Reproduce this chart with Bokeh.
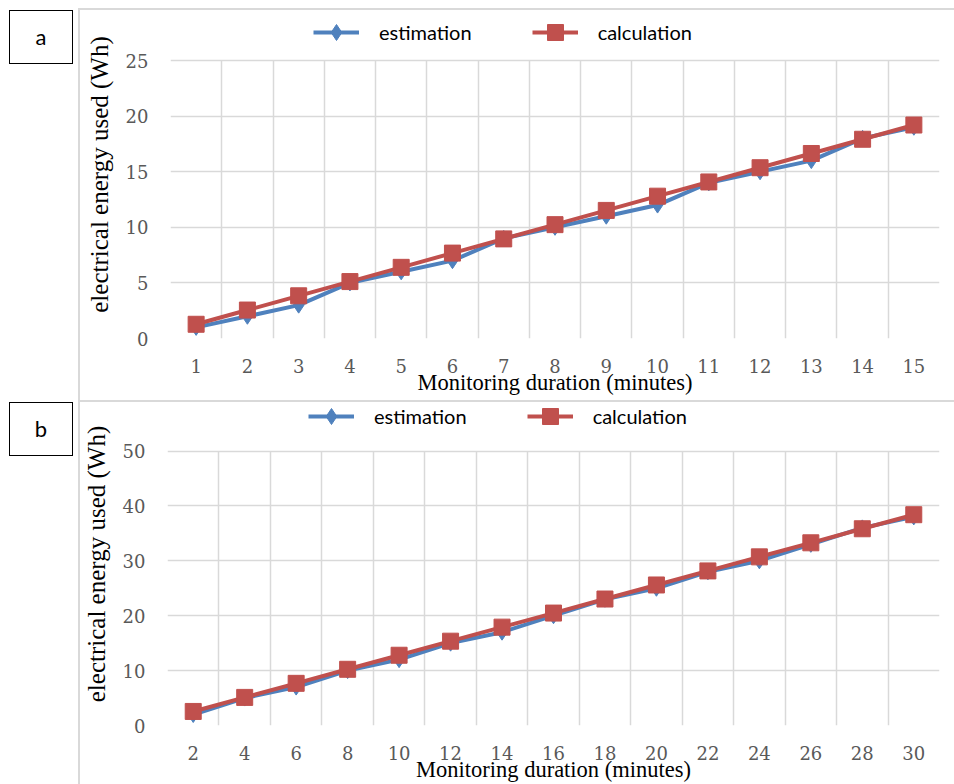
from bokeh.plotting import figure
from bokeh.models import FixedTicker, Legend, LegendItem, Range1d, Div, Spacer
from bokeh.layouts import column, row
from bokeh.embed import file_html
from bokeh.resources import INLINE

# ---- data (panel a) ----
minutes_a = [1, 2, 3, 4, 5, 6, 7, 8, 9, 10, 11, 12, 13, 14, 15]
estimation_a = [1, 2, 3, 5, 6, 7, 9, 10, 11, 12, 14, 15, 16, 18, 19]
calculation_a = [1.28, 2.56, 3.84, 5.12, 6.4, 7.68, 8.96, 10.24, 11.52, 12.8,
                 14.08, 15.36, 16.64, 17.92, 19.2]
y_ticks_a = [0, 5, 10, 15, 20, 25]

# ---- data (panel b) ----
minutes_b = [2, 4, 6, 8, 10, 12, 14, 16, 18, 20, 22, 24, 26, 28, 30]
estimation_b = [2, 5, 7, 10, 12, 15, 17, 20, 23, 25, 28, 30, 33, 36, 38]
calculation_b = [2.56, 5.12, 7.68, 10.24, 12.8, 15.36, 17.92, 20.48, 23.04, 25.6,
                 28.16, 30.72, 33.28, 35.84, 38.4]
y_ticks_b = [0, 10, 20, 30, 40, 50]

series_names = ["estimation", "calculation"]
x_title = "Monitoring duration (minutes)"
y_title = "electrical energy used (Wh)"

GRID = "#d9d9d9"
BLUE = "#4f81bd"
RED = "#c0504d"
TICK = "#595959"


def make_panel(xs, est, calc, yticks, y_top, width, height, bl, br, bt, bb, leg_x, leg_y):
    step = xs[1] - xs[0]
    x_lo, x_hi = xs[0] - step / 2, xs[-1] + step / 2
    xr = Range1d(x_lo, x_hi)
    yr = Range1d(yticks[0], y_top)   # headroom above the plot area holds the legend
    p = figure(width=width, height=height, x_range=xr, y_range=yr,
               output_backend="svg", toolbar_location=None,
               min_border_left=bl, min_border_right=br,
               min_border_top=bt, min_border_bottom=bb)
    p.outline_line_color = None
    p.background_fill_alpha = 0
    p.border_fill_alpha = 0
    p.styles = {"box-shadow": "inset 2px 2px 0 0 #d9d9d9"}

    grid_x = [x_lo + i * step for i in range(len(xs) + 1)]
    p.xgrid.ticker = FixedTicker(ticks=grid_x)
    p.ygrid.ticker = FixedTicker(ticks=yticks)
    p.xgrid.cross_bounds = (yticks[0], yticks[-1])
    p.ygrid.cross_bounds = (x_lo, x_hi)
    for g in (p.xgrid, p.ygrid):
        g.grid_line_color = GRID
        g.grid_line_width = 1.5

    p.xaxis.ticker = FixedTicker(ticks=xs)
    p.yaxis.ticker = FixedTicker(ticks=yticks)
    p.yaxis.bounds = (yticks[0], yticks[-1])
    for ax in (p.xaxis, p.yaxis):
        ax.axis_line_color = None
        ax.major_tick_line_color = None
        ax.minor_tick_line_color = None
        ax.major_label_text_font = "DejaVu Serif"
        ax.major_label_text_font_size = "18px"
        ax.major_label_text_color = TICK
        ax.axis_label_text_font = "Liberation Serif"
        ax.axis_label_text_font_style = "normal"
        ax.axis_label_text_color = "black"
    p.xaxis.axis_label_text_font_size = "22.5px"
    p.yaxis.axis_label_text_font_size = "25px"
    p.xaxis.axis_label = x_title
    p.yaxis.axis_label = y_title
    p.xaxis.major_label_standoff = 14
    p.xaxis.axis_label_standoff = -6
    p.yaxis.major_label_standoff = 16
    p.yaxis.axis_label_standoff = 10

    l1 = p.line(xs, est, line_color=BLUE, line_width=4)
    m1 = p.scatter(xs, est, marker="diamond", size=16, fill_color=BLUE, line_color=BLUE)
    l2 = p.line(xs, calc, line_color=RED, line_width=4)
    m2 = p.scatter(xs, calc, marker="square", size=16, fill_color=RED, line_color=RED)

    legend = Legend(items=[LegendItem(label=series_names[0], renderers=[l1, m1]),
                           LegendItem(label=series_names[1], renderers=[l2, m2])],
                    orientation="horizontal", location=(leg_x, leg_y),
                    border_line_color=None, background_fill_alpha=0,
                    padding=0, margin=0, spacing=60, label_standoff=20,
                    glyph_width=46, glyph_height=40,
                    label_text_font="Lato", label_text_font_size="20px",
                    label_text_color="black")
    p.add_layout(legend, "center")
    return p


def letter_div(letter, height):
    html = ('<div style="margin-left:9px;margin-top:2px;width:64px;height:54px;'
            'box-sizing:border-box;border:1.5px solid black;display:flex;'
            'align-items:center;justify-content:center;font-family:Lato;'
            'font-size:22px;color:black;">' + letter + '</div>')
    return Div(text=html, width=78, height=height, margin=0)


pa = make_panel(minutes_a, estimation_a, calculation_a, y_ticks_a, 29.5,
                876, 392, 92, 15, 2, 62, 143, 286)
pb = make_panel(minutes_b, estimation_b, calculation_b, y_ticks_b, 58.84,
                876, 384, 89, 15, 2, 56, 141, 289)

layout = column(Spacer(width=954, height=8, margin=0),
                row(letter_div("a", 392), pa, spacing=0),
                row(letter_div("b", 384), pb, spacing=0),
                spacing=0)
open("out.html", "w").write(file_html(layout, INLINE))
